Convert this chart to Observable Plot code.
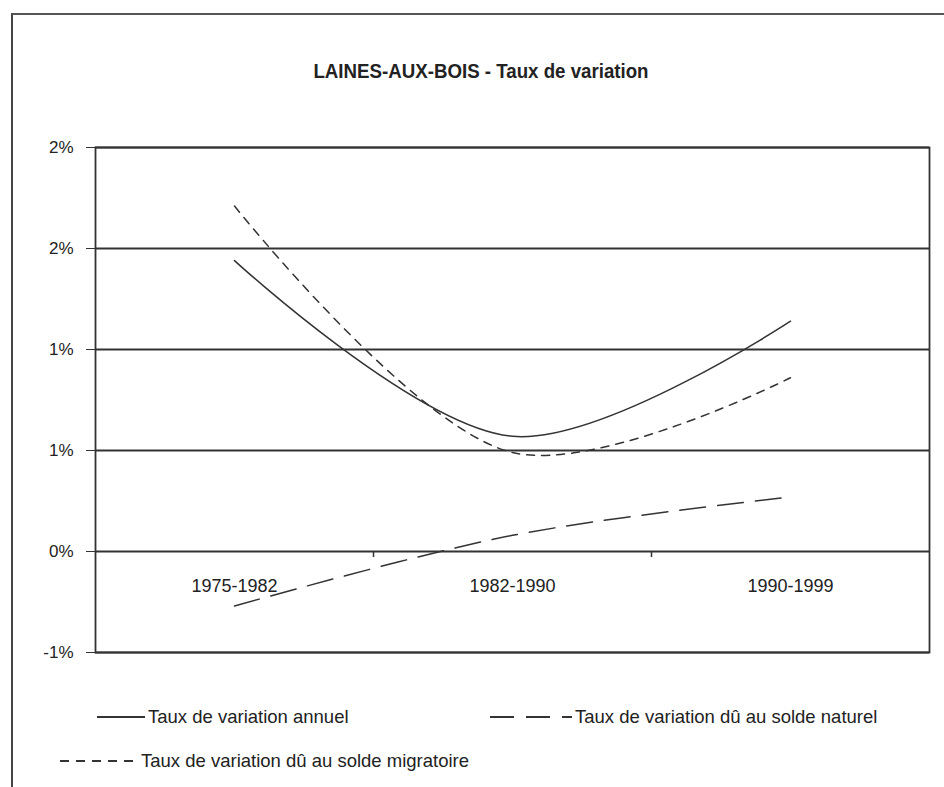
<!DOCTYPE html>
<html>
<head>
<meta charset="utf-8">
<script src="https://cdn.jsdelivr.net/npm/d3@7"></script>
<script src="https://cdn.jsdelivr.net/npm/@observablehq/plot@0.6"></script>
<style>
  html, body { margin: 0; padding: 0; background: #fff; }
  #page { position: relative; width: 944px; height: 787px; overflow: hidden; background: #fff; }
  #outer { position: absolute; left: 11px; top: 13px; width: 960px; height: 772px;
           border-left: 2px solid #444; border-top: 2px solid #555; border-bottom: 1px solid #bbb; }
  #title { position: absolute; left: 481px; top: 59px; transform: translateX(-50%) scaleX(0.89); white-space: nowrap;
           font-family: "Liberation Sans", Arial, sans-serif;
           font-weight: bold; font-size: 21px; color: #222; }
  #chart { position: absolute; left: 0; top: 0; }
  .leg { position: absolute; display: flex; align-items: center; white-space: nowrap;
         font-family: "Liberation Sans", Arial, sans-serif;
         font-size: 18.5px; color: #222; }
  .leg svg { display: block; margin-right: 3px; }
</style>
</head>
<body>
<div id="page">
  <div id="outer"></div>
  <div id="chart"></div>
  <div id="title"></div>
  <div id="legend"></div>
</div>
<script>
const titleText = "LAINES-AUX-BOIS - Taux de variation";
const categories = ["1975-1982", "1982-1990", "1990-1999"];
const annuel = [1.44, 0.57, 1.14];
const naturel = [-0.27, 0.08, 0.27];
const migratoire = [1.71, 0.49, 0.86];
const yTicks = [-0.5, 0, 0.5, 1, 1.5, 2];
const yTickLabels = ["-1%", "0%", "1%", "1%", "2%", "2%"];
const seriesNames = [
  "Taux de variation annuel",
  "Taux de variation dû au solde naturel",
  "Taux de variation dû au solde migratoire"
];
const seriesDash = ["none", "26,12", "8,7"];
const seriesValues = [annuel, naturel, migratoire];

const ink = "#333";
const rows = [];
seriesValues.forEach((vals, s) => vals.forEach((v, i) => rows.push({series: seriesNames[s], i, v})));
const boundaries = categories.slice(1).map((_, i) => i + 0.5);

const chart = Plot.plot({
  width: 944,
  height: 680,
  marginTop: 147,
  marginBottom: 28,
  marginLeft: 95,
  marginRight: 15,
  style: {fontFamily: "'Liberation Sans', Arial, sans-serif", color: "#222", background: "transparent"},
  x: {domain: [-0.5, categories.length - 0.5], axis: null},
  y: {domain: [d3.min(yTicks), d3.max(yTicks)], axis: null},
  marks: [
    Plot.ruleY(yTicks, {stroke: ink, strokeWidth: 1.8}),
    Plot.frame({stroke: ink, strokeWidth: 1.8}),
    Plot.ruleX(boundaries, {y1: 0, y2: -0.03, stroke: ink, strokeWidth: 1.5}),
    Plot.axisY({ticks: yTicks, tickFormat: d => yTickLabels[yTicks.indexOf(d)], tickSize: 9, tickPadding: 13,
      fontSize: 17, stroke: ink, label: null}),
    Plot.text(categories, {x: (d, i) => i, frameAnchor: "bottom", dy: -61, text: d => d, fontSize: 18, fill: "#222"}),
    ...seriesNames.map((name, s) =>
      Plot.line(rows.filter(r => r.series === name), {
        x: "i", y: "v", curve: "catmull-rom", stroke: ink, strokeWidth: 1.5,
        strokeDasharray: seriesDash[s] === "none" ? null : seriesDash[s]
      })
    )
  ]
});
document.getElementById("chart").appendChild(chart);
document.getElementById("title").textContent = titleText;

// legend (HTML)
const legendPos = [
  {left: 97, top: 717, w: 48, dash: null},
  {left: 490, top: 717, w: 82, dash: "24,12"},
  {left: 60, top: 761, w: 78, dash: "9,7"}
];
const legend = document.getElementById("legend");
seriesNames.forEach((name, s) => {
  const p = legendPos[s];
  const div = document.createElement("div");
  div.className = "leg";
  div.style.left = p.left + "px";
  div.style.top = (p.top - 11) + "px";
  const dash = p.dash ? `stroke-dasharray="${p.dash}"` : "";
  div.innerHTML = `<svg width="${p.w}" height="4"><line x1="0" y1="2" x2="${p.w}" y2="2" stroke="${ink}" stroke-width="1.8" ${dash}/></svg><span>${name}</span>`;
  legend.appendChild(div);
});
</script>
</body>
</html>
